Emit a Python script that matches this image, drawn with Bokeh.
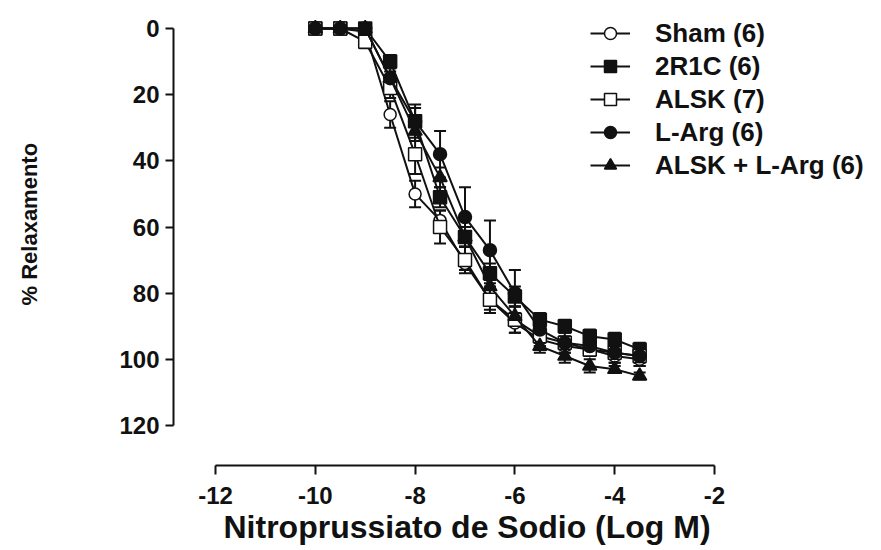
from bokeh.plotting import figure
from bokeh.models import (Range1d, ColumnDataSource, Whisker, TeeHead, Legend,
                          LegendItem, FixedTicker, CustomJSTickFormatter, Title)
from bokeh.embed import file_html
from bokeh.resources import INLINE

# ---- data ----
log_conc = [-10, -9.5, -9, -8.5, -8, -7.5, -7, -6.5, -6, -5.5, -5, -4.5, -4, -3.5]

series_names = ["Sham (6)", "2R1C (6)", "ALSK (7)", "L-Arg (6)", "ALSK + L-Arg (6)"]

sham_mean = [0, 0, 1, 26, 50, 58, 71, 82, 89, 94, 96, 97, 99, 100]
sham_sem = [0, 0, 1, 4, 4, 3, 2, 3, 3, 2, 2, 2, 2, 2]

r2r1c_mean = [0, 0, 0, 10, 28, 51, 63, 74, 81, 88, 90, 93, 94, 97]
r2r1c_sem = [0, 0, 0, 2, 4, 3, 3, 3, 3, 2, 2, 2, 2, 2]

alsk_mean = [0, 0, 4, 18, 38, 60, 70, 82, 88, 93, 95, 97, 98, 99]
alsk_sem = [0, 0, 2, 3, 6, 5, 4, 4, 4, 3, 2, 2, 2, 2]

larg_mean = [0, 0, 0, 15, 28, 38, 57, 67, 80, 91, 95, 96, 98, 99]
larg_sem = [0, 0, 1, 3, 5, 7, 9, 9, 7, 4, 3, 3, 3, 3]

alsk_larg_mean = [0, 0, 0, 15, 31, 45, 63, 78, 87, 96, 99, 102, 103, 105]
alsk_larg_sem = [0, 0, 1, 2, 3, 3, 3, 3, 3, 2, 2, 2, 1, 1]

x_ticks = [-12, -10, -8, -6, -4, -2]
y_ticks = [0, 20, 40, 60, 80, 100, 120]

x_label = "Nitroprussiato de Sodio (Log M)"
y_label = "% Relaxamento"

# ---- layout geometry (pixels) ----
W, H = 881, 550
frame_left, frame_right, frame_top, frame_bottom = 173, 871, 10, 465
x0_px, x1_px = 215, 714      # -12 and -2
y0_px, y1_px = 28, 425       # 0 and 120

xs = (x1_px - x0_px) / 10.0
ys = (y1_px - y0_px) / 120.0
x_start = -12 - (x0_px - frame_left) / xs
x_end = -2 + (frame_right - x1_px) / xs
y_top = 0 - (y0_px - frame_top) / ys
y_bot = 120 + (frame_bottom - y1_px) / ys

FONT = "Liberation Sans"
INK = "#111111"

p = figure(width=W, height=H, output_backend="svg", toolbar_location=None,
           x_range=Range1d(x_start, x_end), y_range=Range1d(y_bot, y_top),
           min_border_left=frame_left, min_border_right=W - frame_right,
           min_border_top=frame_top, min_border_bottom=H - frame_bottom)
p.outline_line_color = None
p.xgrid.visible = False
p.ygrid.visible = False
p.background_fill_color = "white"
p.border_fill_color = "white"

for ax in (p.xaxis[0], p.yaxis[0]):
    ax.axis_line_width = 2
    ax.axis_line_color = INK
    ax.major_tick_line_width = 2
    ax.major_tick_line_color = INK
    ax.major_tick_in = 0
    ax.minor_tick_line_color = None
    ax.major_label_text_font = FONT
    ax.major_label_text_font_style = "bold"
    ax.major_label_text_font_size = "24px"
    ax.major_label_text_color = INK
    ax.formatter = CustomJSTickFormatter(code="return tick.toString();")

p.xaxis.bounds = (-12, -2)
p.xaxis.ticker = FixedTicker(ticks=x_ticks)
p.xaxis.major_tick_out = 9
p.xaxis.major_label_standoff = 12

p.yaxis.bounds = (0, 120)
p.yaxis.ticker = FixedTicker(ticks=y_ticks)
p.yaxis.major_tick_out = 8
p.yaxis.major_label_standoff = 6

# axis titles, centred on the drawn axis lines rather than on the frame
x_title = Title(text=x_label, align="left", offset=50, standoff=0,
                text_font=FONT, text_font_style="bold", text_font_size="32px",
                text_color=INK)
p.add_layout(x_title, "below")

# blank spacer between the y tick labels and the y title
spacer = Title(text=" ", standoff=60, text_font_size="1px")
p.add_layout(spacer, "left")

y_title = Title(text=y_label, align="left", offset=160, standoff=24,
                text_font=FONT, text_font_style="bold", text_font_size="22px",
                text_color=INK)
p.add_layout(y_title, "left")

specs = [
    (sham_mean, sham_sem, "circle", "white", 12),
    (r2r1c_mean, r2r1c_sem, "square", INK, 13),
    (alsk_mean, alsk_sem, "square", "white", 13),
    (larg_mean, larg_sem, "circle", INK, 13),
    (alsk_larg_mean, alsk_larg_sem, "triangle", INK, 14),
]

items = []
for name, (mean, sem, marker, fill, size) in zip(series_names, specs):
    ex = [x for x, s in zip(log_conc, sem) if s > 0]
    up = [m + s for m, s in zip(mean, sem) if s > 0]
    lo = [m - s for m, s in zip(mean, sem) if s > 0]
    esrc = ColumnDataSource(dict(x=ex, upper=up, lower=lo))
    w = Whisker(base="x", upper="upper", lower="lower", source=esrc,
                line_color=INK, line_width=2,
                upper_head=TeeHead(size=12, line_width=2, line_color=INK),
                lower_head=TeeHead(size=12, line_width=2, line_color=INK))
    p.add_layout(w)
    src = ColumnDataSource(dict(x=log_conc, y=mean))
    ln = p.line("x", "y", source=src, line_color=INK, line_width=2)
    sc = p.scatter("x", "y", source=src, marker=marker, size=size,
                   fill_color=fill, line_color=INK, line_width=1.5)
    items.append(LegendItem(label=name, renderers=[ln, sc]))

legend_h = 5 * 31 + 4 * 2
legend_top = 17.5
legend = Legend(items=items,
                location=(590 - frame_left, frame_bottom - (legend_top + legend_h)),
                label_text_font=FONT, label_text_font_style="bold",
                label_text_font_size="26px", label_text_color=INK,
                glyph_width=40, glyph_height=30, label_height=30,
                label_standoff=25, spacing=2, padding=0, margin=0,
                border_line_color=None, background_fill_alpha=0)
p.add_layout(legend)

open("out.html", "w").write(file_html(p, INLINE))
